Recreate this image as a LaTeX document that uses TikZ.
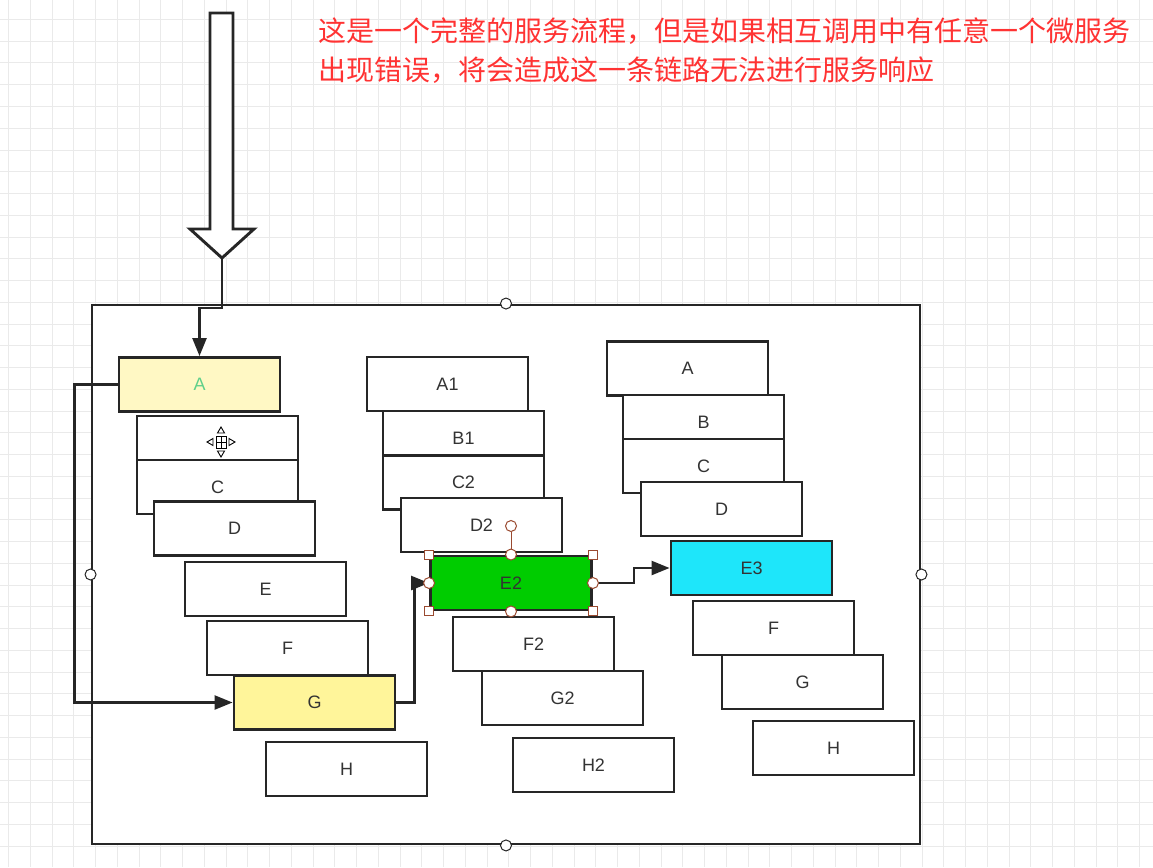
\documentclass[tikz,border=0pt]{standalone}
\usepackage{fontspec}
\newfontfamily\cjk{Noto Sans CJK SC}
\newfontfamily\lab{Liberation Sans}
\usetikzlibrary{arrows.meta}
\definecolor{gridgray}{HTML}{EAEAEA}
\definecolor{linegray}{HTML}{262626}
\definecolor{paleyellow}{HTML}{FFF8C4}
\definecolor{goldyellow}{HTML}{FFF59A}
\definecolor{okgreen}{HTML}{00CC00}
\definecolor{skycyan}{HTML}{1EE6FA}
\definecolor{alertred}{HTML}{FF3333}
\definecolor{handlered}{HTML}{9A4A30}
\definecolor{textgray}{HTML}{333333}
\definecolor{agreen}{HTML}{5FD08A}

\begin{document}
\begin{tikzpicture}[x=1pt,y=-1pt,
  svc/.style={rectangle,draw=linegray,fill=white,line width=2.9pt,minimum width=161pt,
    minimum height=54pt,inner sep=0pt,font=\lab\fontsize{18}{20}\selectfont,text=textgray},
  flow/.style={draw=linegray,line width=2.4pt,-{Triangle[length=18pt,width=14pt]}},
  hsq/.style={rectangle,draw=handlered,fill=white,line width=1pt,minimum size=9pt,inner sep=0pt},
  hdot/.style={circle,draw=handlered,fill=white,line width=1pt,minimum size=11pt,inner sep=0pt}]

      \useasboundingbox (0,0) rectangle (1153,867);
      \fill[white] (0,0) rectangle (1153,867);
      \foreach \i in {0,...,52}
        \draw[gridgray,line width=1pt] (8.5+21.75*\i,0) -- (8.5+21.75*\i,867);
      \foreach \i in {0,...,38}
        \draw[gridgray,line width=1pt] (0,19.5+21.75*\i) -- (1153,19.5+21.75*\i);

      \node[anchor=base west,align=left,text=alertred,inner sep=0pt,
        font=\cjk\fontsize{28}{38}\selectfont] (note) at (318,80)
        {这是一个完整的服务流程，但是如果相互调用中有任意一个微服务\\出现错误，将会造成这一条链路无法进行服务响应};

      \draw[linegray,fill=white,line width=2.9pt] (210,13) -- (233,13) -- (233,229) -- (254,229)
        -- (222,258) -- (190,229) -- (210,229) -- cycle;
      \coordinate (tip) at (222,258);

      \node[draw=linegray,line width=2.9pt,fill=white,minimum width=828pt,minimum height=539pt,
        inner sep=0pt] (frame) at (506,574.5) {};

      \begin{scope}
        \node[svc,fill=paleyellow,text=agreen] (a) at (199.5,384.5) {A};
        \node[svc] (b) at (217.5,443)   {};
        \node[svc] (c) at (217.5,487)   {C};
        \node[svc] (d) at (234.5,528.5) {D};
        \node[svc] (e) at (265.5,589)   {E};
        \node[svc] (f) at (287.5,648)   {F};
        \node[svc,fill=goldyellow] (g) at (314.5,702.5) {G};
        \node[svc] (h) at (346.5,769)   {H};

        \node[svc] (a2) at (447.5,384)   {A1};
        \node[svc] (b2) at (463.5,438)   {B1};
        \node[svc] (c2) at (463.5,482.5) {C2};
        \node[svc] (d2) at (481.5,525)   {D2};
        \node[svc,fill=okgreen] (e2) at (511,583) {E2};
        \node[svc] (f2) at (533.5,644)   {F2};
        \node[svc] (g2) at (562.5,698)   {G2};
        \node[svc] (h2) at (593.5,765)   {H2};

        \node[svc] (a3) at (687.5,368.5) {A};
        \node[svc] (b3) at (703.5,422)   {B};
        \node[svc] (c3) at (703.5,466)   {C};
        \node[svc] (d3) at (721.5,509)   {D};
        \node[svc,fill=skycyan] (e3) at (751.5,568) {E3};
        \node[svc] (f3) at (773.5,628)   {F};
        \node[svc] (g3) at (802.5,682)   {G};
        \node[svc] (h3) at (833.5,748)   {H};
      \end{scope}

      \begin{scope}[shift={(221,442)},line width=0.9pt]
        \draw[black] (-5,-6) rectangle (5,6);
        \draw[black] (0,-6) -- (0,6) (-5,0) -- (5,0);
        \filldraw[fill=white,draw=black] (-8,-3.5) -- (-14,0) -- (-8,3.5) -- cycle;
        \filldraw[fill=white,draw=black] (8,-3.5) -- (14,0) -- (8,3.5) -- cycle;
        \filldraw[fill=white,draw=black] (-3.5,-9) -- (0,-15) -- (3.5,-9) -- cycle;
        \filldraw[fill=white,draw=black] (-3.5,9) -- (0,15) -- (3.5,9) -- cycle;
      \end{scope}

      \draw[flow] (tip) -- ++(0,50) -| (a.north);
      \draw[flow] (a.west) -- ++(-43,0) |- (g.west);
      \draw[flow] (g.east) -- ++(18,0) |- (e2.west);
      \draw[flow] (e2.east) -- ++(41,0) |- (e3.west);

      \node[hdot] (rot) at (511,526) {};
      \draw[handlered,line width=1pt] (e2.north) -- (rot);
      \foreach \c/\n in {north west/1,north east/2,south west/3,south east/4}
        \node[hsq] (sq\n) at (e2.\c) {};
      \foreach \c/\n in {north/1,south/2,west/3,east/4}
        \node[hdot] (md\n) at (e2.\c) {};
      \foreach \c/\n in {north/1,south/2,west/3,east/4}
        \node[hdot,draw=linegray] (fh\n) at (frame.\c) {};

    \end{tikzpicture}
\end{document}
